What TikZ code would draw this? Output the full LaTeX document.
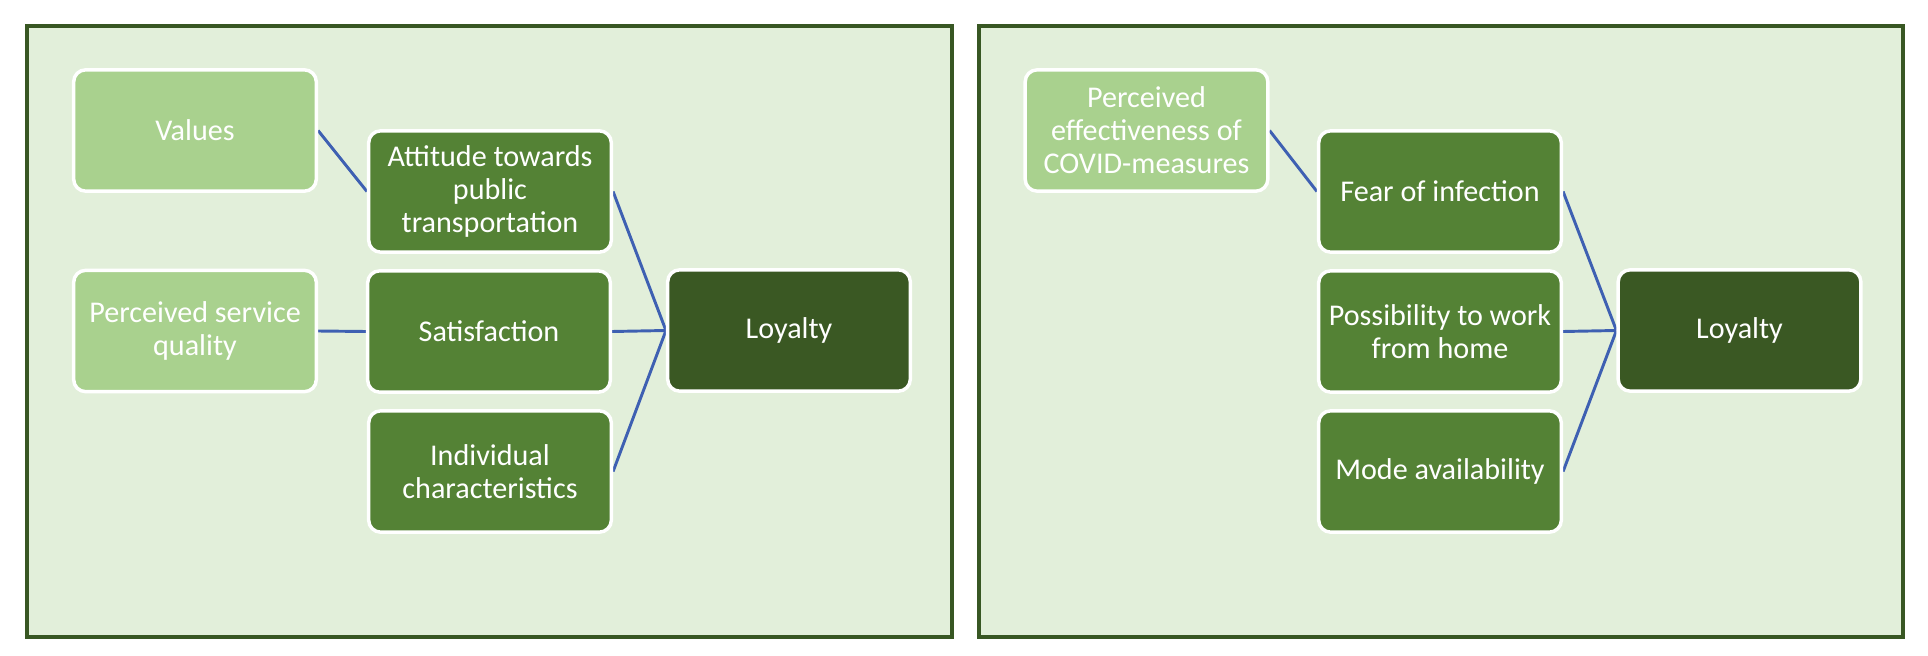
\documentclass[tikz,border=0pt]{standalone}
\usepackage{fontspec}
\setmainfont{Carlito}
\definecolor{panelbg}{HTML}{E2EFDA}
\definecolor{panelline}{HTML}{385723}
\definecolor{lightbox}{HTML}{A9D18E}
\definecolor{midbox}{HTML}{548235}
\definecolor{darkbox}{HTML}{3A5823}
\definecolor{edgeblue}{RGB}{62,96,178}
\pgfdeclarelayer{framelayer}
\pgfdeclarelayer{edgelayer}
\pgfsetlayers{framelayer,edgelayer,main}
\begin{document}
\begin{tikzpicture}[x=0.75pt,y=-0.75pt,
  boxbase/.style={rectangle, rounded corners=9pt, draw=white, line width=2.6pt,
    minimum width=182pt, minimum height=91pt, inner sep=1pt, align=center,
    text=white, font=\fontsize{22.6}{24.75}\selectfont},
  lightnode/.style={boxbase, fill=lightbox},
  midnode/.style={boxbase, fill=midbox},
  darknode/.style={boxbase, fill=darkbox},
  panel/.style={fill=panelbg, draw=panelline, line width=2.3pt},
  link/.style={draw=edgeblue, line width=2.2pt}]
\useasboundingbox (0,0) rectangle (1928,656);
\begin{pgfonlayer}{framelayer}
  \draw[panel] (27,26) rectangle (952,637);
  \draw[panel] (979,26) rectangle (1903,637);
\end{pgfonlayer}
% left panel
\node[lightnode] (val) at (195,130.5) {Values};
\node[midnode] (att) at (490,191.5) {Attitude towards\\public\\transportation};
\node[lightnode] (psq) at (195,331) {Perceived service\\quality};
\node[midnode] (sat) at (489,331.5) {Satisfaction};
\node[midnode] (ind) at (490,471.5) {Individual\\characteristics};
\node[darknode] (loy1) at (789,330.5) {Loyalty};
% right panel
\node[lightnode] (pe) at (1146.5,130.5) {Perceived\\effectiveness of\\COVID-measures};
\node[midnode] (fear) at (1440,191.5) {Fear of infection};
\node[midnode] (wfh) at (1440,331.5) {Possibility to work\\from home};
\node[midnode] (mode) at (1440,471.5) {Mode availability};
\node[darknode] (loy2) at (1739.5,330.5) {Loyalty};
\begin{pgfonlayer}{edgelayer}
  \draw[link] (val.east) -- (att.west);
  \draw[link] (psq.east) -- (sat.west);
  \draw[link] (att.east) -- (loy1.west);
  \draw[link] (sat.east) -- (loy1.west);
  \draw[link] (ind.east) -- (loy1.west);
  \draw[link] (pe.east) -- (fear.west);
  \draw[link] (fear.east) -- (loy2.west);
  \draw[link] (wfh.east) -- (loy2.west);
  \draw[link] (mode.east) -- (loy2.west);
\end{pgfonlayer}
\end{tikzpicture}
\end{document}
